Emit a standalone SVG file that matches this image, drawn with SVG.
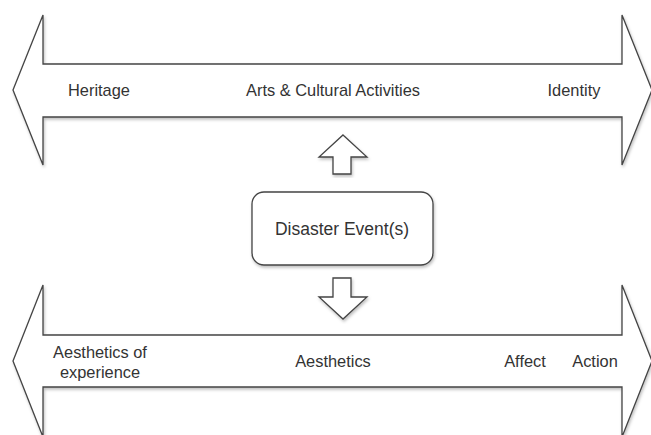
<svg xmlns="http://www.w3.org/2000/svg" width="651" height="435" viewBox="0 0 651 435">
<defs>
<filter id="sh" x="-10%" y="-10%" width="120%" height="120%">
<feDropShadow dx="1" dy="2" stdDeviation="1.5" flood-color="#000" flood-opacity="0.25"/>
</filter>
<style>
.shape{fill:#fff;stroke:#444;stroke-width:1.3;filter:url(#sh)}
.t{font-family:"Liberation Sans",Arial,sans-serif;font-size:16.4px;fill:#333;text-anchor:middle;dominant-baseline:central}
.big{font-size:17.5px}
</style>
</defs>
<rect width="651" height="435" fill="#fff"/>
<g id="top-band">
<path class="shape" d="M13,90 L43,15 L43,64 L622,64 L622,15 L652,90 L622,165 L622,117 L43,117 L43,165 Z"/>
<text class="t" x="99" y="90">Heritage</text>
<text class="t" x="333" y="90">Arts &amp; Cultural Activities</text>
<text class="t" x="574" y="90">Identity</text>
</g>
<g id="bottom-band">
<path class="shape" d="M13,361 L43,285 L43,335 L622,335 L622,285 L652,361 L622,437 L622,387 L43,387 L43,437 Z"/>
<text class="t" x="100" y="352">Aesthetics of</text>
<text class="t" x="100" y="372">experience</text>
<text class="t" x="333" y="361">Aesthetics</text>
<text class="t" x="525" y="361">Affect</text>
<text class="t" x="595" y="361">Action</text>
</g>
<g id="disaster">
<rect class="shape" x="252" y="192" width="181" height="73" rx="12"/>
<text class="t big" x="342" y="229">Disaster Event(s)</text>
</g>
<g id="connectors">
<path class="shape" d="M343,135 L367,157 L351,157 L351,174 L333,174 L333,157 L319,157 Z"/>
<path class="shape" d="M333,278 L351,278 L351,297 L367,297 L343,319 L319,297 L333,297 Z"/>
</g>
</svg>
